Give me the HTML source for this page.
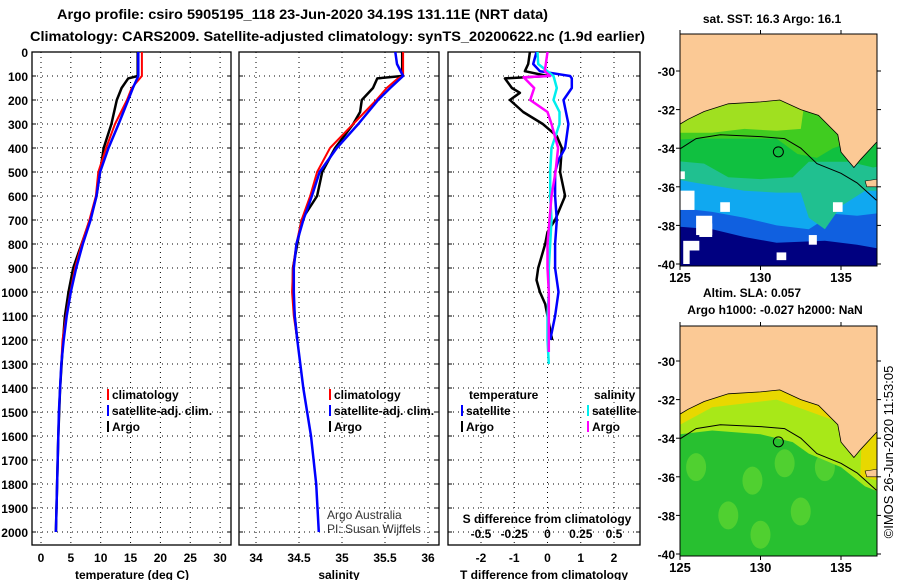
<!DOCTYPE html>
<html><head><meta charset="utf-8"><style>
body{margin:0;background:#fff}
svg{display:block;font-family:"Liberation Sans",sans-serif}
text{font-weight:bold;font-size:12px;fill:#000}
</style></head><body>
<svg id="s" width="900" height="580" viewBox="0 0 900 580" xmlns="http://www.w3.org/2000/svg">
<text x="57" y="19" textLength="491" lengthAdjust="spacingAndGlyphs" style="font-size:14px">Argo profile: csiro 5905195_118 23-Jun-2020 34.19S 131.11E (NRT data)</text>
<text x="30" y="41" textLength="615" lengthAdjust="spacingAndGlyphs" style="font-size:14px">Climatology: CARS2009. Satellite-adjusted climatology: synTS_20200622.nc (1.9d earlier)</text>
<g id="maps"></g>
<g id="plots"></g>
</svg>
<script>
// ---- data ----
const tempArgoDepth=[0,100,110,150,200,300,400,500,600,700,800,900,1000,1100,1200,1400,1600,1800,2000];
const tempArgo=[16.2,16.2,14.6,13.5,12.7,11.8,10.5,9.9,9.3,8.2,6.8,5.4,4.6,4.0,3.7,3.2,2.9,2.7,2.5];
const tempClimDepth=[0,100,150,200,300,400,500,600,700,800,900,1000,1100,1200,1300];
const tempClim=[16.9,16.9,15.2,14.4,12.4,10.9,9.6,9.2,8.1,6.8,5.7,4.9,4.2,3.6,3.4];
const tempSatDepth=[0,100,150,200,300,400,500,600,700,800,900,1000,1100,1200,1300,1400,1500,1600,1700,1800,1900,2000];
const tempSat=[16.3,16.3,15.4,14.6,13.0,11.3,9.9,9.3,8.3,7.0,5.9,5.0,4.3,3.8,3.4,3.2,3.0,2.9,2.8,2.7,2.6,2.5];
const salArgoDepth=[0,100,110,150,200,250,300,400,500,600,700,800,900,1000,1100,1200];
const salArgo=[35.70,35.70,35.41,35.36,35.23,35.21,35.13,34.92,34.77,34.71,34.53,34.48,34.43,34.43,34.45,34.48];
const salClimDepth=[0,100,110,150,200,300,400,500,600,700,800,900,1000,1100,1200];
const salClim=[35.71,35.71,35.65,35.52,35.40,35.13,34.86,34.71,34.63,34.53,34.47,34.43,34.42,34.44,34.48];
const salSatDepth=[0,50,100,150,200,300,400,500,600,700,800,900,1000,1100,1200,1400,1600,1800,2000];
const salSat=[35.62,35.64,35.71,35.56,35.42,35.19,34.94,34.74,34.65,34.55,34.47,34.44,34.44,34.45,34.48,34.55,34.64,34.70,34.73];
const dtArgoDepth=[0,50,80,100,110,150,170,200,250,300,350,400,500,600,700,750,800,900,950,1000,1050,1100,1200];
const dtArgo=[-0.53,-0.58,-0.68,0,-1.28,-1.07,-0.83,-1.13,-0.73,-0.14,0.28,0.43,0.38,0.53,0.23,0,-0.07,-0.28,-0.33,-0.23,-0.07,0,0.14];
const dtSatDepth=[0,50,80,100,110,150,200,300,400,450,500,600,700,800,900,1000,1100,1200];
const dtSat=[-0.33,-0.43,-0.23,0.68,0.73,0.73,0.48,0.63,0.53,0.33,0.23,0.23,0.28,0.23,0.23,0.33,0.23,0.08];
const dsArgoDepth=[0,80,100,105,150,200,250,300,400,500,600,700,800,900,1000,1100,1250];
const dsArgo=[0,-0.02,0.02,-0.18,-0.1,-0.13,0,0.03,0.08,0.06,0.03,0.015,0,0,0.01,0.01,0.01];
const dsSatDepth=[0,50,100,150,200,250,300,400,500,600,700,800,900,1000,1100,1200,1300];
const dsSat=[-0.075,-0.07,0.045,0.07,0.045,0.09,0.09,0.03,0.02,0.02,0.03,0.02,0.01,0.01,0,0,0.01];
const depthTicks=[0,100,200,300,400,500,600,700,800,900,1000,1100,1200,1300,1400,1500,1600,1700,1800,1900,2000];
const tempTicks=[0,5,10,15,20,25,30];
const salTicks=[34,34.5,35,35.5,36];
const salTickLabels=["34","34.5","35","35.5","36"];
const dtTicks=[-2,-1,0,1,2];
const dsTicks=[-0.5,-0.25,0,0.25,0.5];
const latTicks=[-30,-32,-34,-36,-38,-40];
const lonTicks=[125,130,135];

const NS="http://www.w3.org/2000/svg";
const plots=document.getElementById('plots'), maps=document.getElementById('maps');
function el(p,t,a,txt){const e=document.createElementNS(NS,t);for(const k in a)e.setAttribute(k,a[k]);if(txt!=null)e.textContent=txt;p.appendChild(e);return e;}
const yD=d=>52+d*0.24;
const xT=v=>41+v*5.97, xS=v=>256+(v-34)*86, xDT=v=>547.5+v*33.25, xDS=v=>547.5+v*133;
const panels=[[32,231],[239,439],[448,640]];
const TOP=52,BOT=545;

panels.forEach((p,i)=>{
  const g=el(plots,'g',{});
  
  
  let grid=[];
  if(i==0)grid=tempTicks.map(xT);else if(i==1)grid=salTicks.map(xS);else grid=dtTicks.map(xDT);
  grid.forEach(x=>{const l=el(g,'line',{x1:x,x2:x,y1:TOP,y2:BOT,stroke:'#000','stroke-width':1,'stroke-dasharray':'1 4'});
    });
  depthTicks.forEach(d=>{const l=el(g,'line',{x1:p[0],x2:p[1],y1:yD(d),y2:yD(d),stroke:'#000','stroke-width':1,'stroke-dasharray':'1 4'});
    
    el(g,'line',{x1:p[0],x2:p[0]+4,y1:yD(d),y2:yD(d),stroke:'#000'});
    el(g,'line',{x1:p[1]-4,x2:p[1],y1:yD(d),y2:yD(d),stroke:'#000'});});
  const r=el(g,'rect',{x:p[0],y:TOP,width:p[1]-p[0],height:BOT-TOP,fill:'none',stroke:'#000','stroke-width':1.3});
  
});
depthTicks.forEach(d=>{const t=el(plots,'text',{x:28,y:yD(d)+5,'text-anchor':'end'},String(d));
  });
function xlabels(ticks,fx,labels,y,name){ticks.forEach((v,i)=>{const t=el(plots,'text',{x:fx(v),y:y,'text-anchor':'middle'},labels?labels[i]:String(v));
  });}
xlabels(tempTicks,xT,null,562,'temperature-tick-label');
xlabels(salTicks,xS,salTickLabels,562,'salinity-tick-label');
xlabels(dtTicks,xDT,null,562,'t-diff-tick-label');
xlabels(dsTicks,xDS,null,538,'s-diff-tick-label');
[['temperature (deg C)',132,'x-axis-title-temperature'],['salinity',339,'x-axis-title-salinity'],['T difference from climatology',544,'x-axis-title-t-diff']].forEach(a=>{
  const t=el(plots,'text',{x:a[1],y:579,'text-anchor':'middle'},a[0]);});
const sd=el(plots,'text',{x:547,y:523,'text-anchor':'middle'},'S difference from climatology');


function series(ds,vs,fx,color,name,w){
  const pts=ds.map((d,i)=>fx(vs[i]).toFixed(1)+','+yD(d).toFixed(1)).join(' ');
  const l=el(plots,'polyline',{points:pts,fill:'none',stroke:color,'stroke-width':w||2,'stroke-linejoin':'round'});
  
}
series(tempArgoDepth,tempArgo,xT,'#000','temp-argo-line',2.5);
series(tempClimDepth,tempClim,xT,'#f00','temp-climatology-line');
series(tempSatDepth,tempSat,xT,'#00f','temp-satellite-line',2.5);
series(salArgoDepth,salArgo,xS,'#000','sal-argo-line',2.5);
series(salClimDepth,salClim,xS,'#f00','sal-climatology-line');
series(salSatDepth,salSat,xS,'#00f','sal-satellite-line',2.5);
series(dtArgoDepth,dtArgo,xDT,'#000','t-diff-argo-line',2.5);
series(dtSatDepth,dtSat,xDT,'#00f','t-diff-satellite-line',2.5);
series(dsSatDepth,dsSat,xDS,'#0ee','s-diff-satellite-line',2.5);
series(dsArgoDepth,dsArgo,xDS,'#f0f','s-diff-argo-line',2.5);

function legend(x,y,color,label,name){
  const g=el(plots,'g',{});
  el(g,'rect',{x:x,y:y-10,width:2,height:11,fill:color});
  el(g,'text',{x:x+5,y:y},label);
}
legend(107,399,'#f00','climatology','legend-climatology');
legend(107,415,'#00f','satellite-adj. clim.','legend-satellite-adj');
legend(107,431,'#000','Argo','legend-argo');
legend(329,399,'#f00','climatology','legend-climatology-2');
legend(329,415,'#00f','satellite-adj. clim.','legend-satellite-adj-2');
legend(329,431,'#000','Argo','legend-argo-2');
const lt=el(plots,'text',{x:469,y:399},'temperature');
const ls=el(plots,'text',{x:594,y:399},'salinity');
legend(461,415,'#00f','satellite','legend-t-satellite');
legend(461,431,'#000','Argo','legend-t-argo');
legend(587,415,'#0ee','satellite','legend-s-satellite');
legend(587,431,'#f0f','Argo','legend-s-argo');
const c1=el(plots,'text',{x:327,y:519,style:'font-weight:normal;fill:#333'},'Argo Australia');
const c2=el(plots,'text',{x:327,y:533,style:'font-weight:normal;fill:#333'},'PI: Susan Wijffels');

// ---- maps ----
function drawMap(y0,y1,latY,kind){
  const X0=680,X1=877;
  const lx=l=>X0+(l-125)*16.1, ly=la=>latY+(-30-la)*19.3;
  const g=el(maps,'g',{});
  const cp='cp'+kind;const d=el(g,'clipPath',{id:cp});el(d,'rect',{x:X0,y:y0,width:X1-X0,height:y1-y0});
  const b=el(g,'g',{'clip-path':'url(#'+cp+')'});
  const P=a=>a.map(q=>lx(q[0]).toFixed(1)+','+ly(q[1]).toFixed(1)).join(' ');
  if(kind=='sst'){
    el(b,'rect',{x:X0,y:y0,width:197,height:y1-y0,fill:'#000080'});
    el(b,'polygon',{points:P([[124,-30],[138,-30],[138,-39.3],[136,-39],[134,-38.8],[131,-38.9],[129,-38.6],[127,-38.2],[124,-38]]),fill:'#1060e0'});
    el(b,'polygon',{points:P([[124,-30],[138,-30],[138,-37.3],[136,-37.5],[134.5,-37.4],[133,-38.2],[131,-38],[129,-37.6],[127,-37.3],[124,-37]]),fill:'#10a8f0'});
    el(b,'polygon',{points:P([[124,-30],[138,-30],[138,-36.2],[136.5,-36.2],[135,-37],[134,-38.2],[133,-37.6],[132.5,-36.3],[131,-36.3],[129,-36.2],[127.5,-36],[126,-35.8],[124,-35.5]]),fill:'#20c090'});
    el(b,'polygon',{points:P([[124,-30],[138,-30],[138,-34.8],[137,-35],[135.5,-34.7],[133,-34.7],[132,-35.5],[130,-35.6],[128,-35.5],[126.5,-34.8],[124,-34.6]]),fill:'#10c040'});
    el(b,'polygon',{points:P([[124,-30],[138,-30],[138,-33],[134.5,-34],[133.5,-34.5],[132.3,-34.3],[131,-33.5],[128,-33.5],[126,-33.5],[124,-33.6]]),fill:'#40cc20'});
    el(b,'polygon',{points:P([[124,-30],[133,-30],[132.5,-33],[131,-33.1],[129,-33],[127,-33.2],[124,-33.2]]),fill:'#a0e020'});
    [[125,-36.2,0.9,1],[125,-35.2,0.3,0.4],[125.2,-38.8,1,1.2],[126,-37.5,1,1],[131,-39.4,0.6,0.4],[133,-38.5,0.5,0.5],[134.5,-36.8,0.6,0.5],[127.5,-36.8,0.6,0.5],[126.2,-37.9,0.8,0.7]].forEach(w=>{
      el(b,'rect',{x:lx(w[0]),y:ly(w[1]),width:w[2]*16.1,height:w[3]*19.3,fill:'#fff'});});
    el(b,'rect',{x:lx(125.6),y:ly(-39.3),width:28,height:22,fill:'#000080'});
  } else {
    el(b,'rect',{x:X0,y:y0,width:197,height:y1-y0,fill:'#28c030'});
    [[126,-35.5],[129.5,-36.2],[131.5,-35.3],[132.5,-37.8],[128,-38],[134,-35.5],[130,-39]].forEach(c=>el(b,'ellipse',{cx:lx(c[0]),cy:ly(c[1]),rx:10,ry:14,fill:'#50d030'}));
    el(b,'polygon',{points:P([[124,-30],[138,-30],[138,-37],[136.5,-36.5],[135,-35.5],[133,-34.8],[132,-34.2],[130,-33.8],[127,-33.6],[125,-33.8],[124,-33.8]]),fill:'#a8e818'});
    el(b,'polygon',{points:P([[124,-30],[138,-30],[138,-36.3],[136.2,-36],[136.3,-33.6],[131,-32],[127,-32.4],[125,-33.3],[124,-33.4]]),fill:'#e8d800'});
  }
  el(b,'polygon',{points:P([[124,-27],[139,-27],[139,-33.6],[137.2,-33.7],[136.2,-34.6],[135.8,-35],[135.5,-34.7],[135,-34.2],[134.8,-33.3],[133.6,-32.3],[132.5,-32],[131.2,-31.5],[130,-31.6],[128,-31.7],[126.5,-32.1],[125.5,-32.5],[124.5,-33]]),fill:'#fbc995',stroke:'#000','stroke-width':0.8});
  el(b,'polygon',{points:P([[136.5,-35.7],[137.3,-35.6],[137.3,-36],[136.6,-36]]),fill:'#fbc995',stroke:'#000','stroke-width':0.6});
  el(b,'polyline',{points:P([[124.5,-34.3],[126,-33.5],[127.5,-33.3],[130,-33.4],[131.5,-33.5],[132.5,-34],[133.5,-34.8],[135,-35.3],[136,-35.8],[137.2,-36.7]]),fill:'none',stroke:'#000','stroke-width':1});
  const m=el(b,'circle',{cx:lx(131.11),cy:ly(-34.19),r:5,fill:'none',stroke:'#000','stroke-width':1});
  
  el(g,'rect',{x:X0,y:y0,width:X1-X0,height:y1-y0,fill:'none',stroke:'#000','stroke-width':1});
  latTicks.forEach(la=>{const y=ly(la);if(y<y0||y>y1+2)return;
    el(g,'line',{x1:X0-4,x2:X0,y1:y,y2:y,stroke:'#000'});el(g,'line',{x1:X1,x2:X1+4,y1:y,y2:y,stroke:'#000'});
    const t=el(g,'text',{x:X0-5,y:y+5,'text-anchor':'end'},String(la));});
  lonTicks.forEach(l=>{el(g,'line',{x1:lx(l),x2:lx(l),y1:y0-4,y2:y0,stroke:'#000'});el(g,'line',{x1:lx(l),x2:lx(l),y1:y1,y2:y1+4,stroke:'#000'});
    const t=el(g,'text',{x:lx(l),y:y1+16,'text-anchor':'middle',style:'font-size:13px'},String(l));});
}
drawMap(34,266,71,'sst');
drawMap(326,556,361,'sla');
[['sat. SST: 16.3 Argo: 16.1',772,23,'sst-map-title'],['Altim. SLA: 0.057',752,297,'sla-map-title'],['Argo h1000: -0.027 h2000: NaN',775,314,'sla-map-subtitle']].forEach(a=>{
  const t=el(maps,'text',{x:a[1],y:a[2],'text-anchor':'middle'},a[0]);});
const ts=el(maps,'text',{x:893,y:452,'text-anchor':'middle',transform:'rotate(-90 893 452)',style:'font-weight:normal;font-size:13px'},'©IMOS 26-Jun-2020 11:53:05');

</script>
</body></html>
